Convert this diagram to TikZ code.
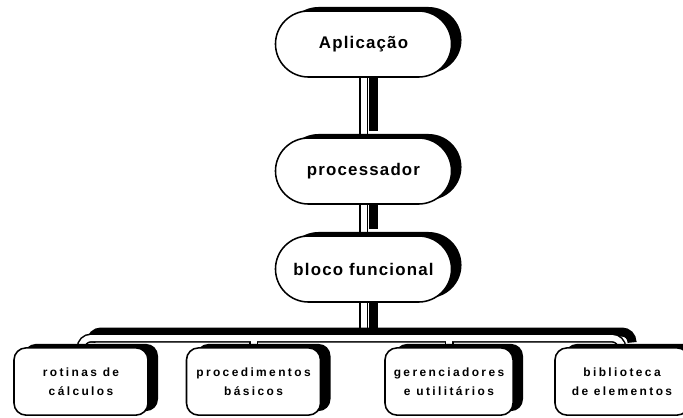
\documentclass[tikz,border=0pt]{standalone}
\usepackage{fontspec}
\setmainfont{Liberation Sans}
\newfontfamily\pillfont{Liberation Sans}[LetterSpace=7]
\newfontfamily\leaffont{Liberation Sans}[LetterSpace=20]
\usetikzlibrary{shapes.misc,shadows,backgrounds}
\tikzset{
  blackshadow/.style={drop shadow={shadow xshift=0.25cm, shadow yshift=0.1cm, fill=black, opacity=1}},
  pill/.style={rounded rectangle, draw=black, line width=1.1pt, fill=white, blackshadow,
    minimum width=4.4cm, minimum height=1.65cm, inner sep=0pt,
    font=\pillfont\bfseries\fontsize{12}{14}\selectfont},
  leaf/.style={rectangle, rounded corners=0.3cm, draw=black, line width=1.1pt, fill=white, blackshadow,
    minimum width=3.35cm, minimum height=1.68cm, align=center, inner sep=0pt,
    font=\leaffont\bfseries\fontsize{8.5}{13.5}\selectfont},
  pipeshift/.style={transform canvas={xshift=0.25cm, yshift=0.15cm}},
  pipeedge/.style={line width=0.225cm, draw=black, rounded corners=0.25cm},
  pipecore/.style={line width=0.15cm, draw=white, rounded corners=0.25cm}
}
\begin{document}
\begin{tikzpicture}[x=0.025cm, y=-0.025cm]
  \clip (0,0) rectangle (683,417);

  % main column
  \node[pill] (app) at (363.5,44) {Aplicação};
  \node[pill] (proc) at (363.5,171) {processador};
  \node[pill] (bloco) at (363.5,269) {bloco funcional};

  % bottom row
  \node[leaf] (rot) at (81,381.5) {rotinas de\\cálculos};
  \node[leaf] (proced) at (253.5,381.5) {procedimentos\\básicos};
  \node[leaf, minimum width=3.2cm] (geren) at (449,381.5) {gerenciadores\\e utilitários};
  \node[leaf] (biblio) at (622,381.5) {biblioteca\\de elementos};

  \coordinate (bus) at (363.5,338);

  \begin{pgfonlayer}{background}
    \fill[white] (0,0) rectangle (683,417);
    % column pipes
    \begin{scope}[pipeshift]
      \draw[pipeedge] (app.south) -- (proc.north);
      \draw[pipeedge] (proc.south) -- (bloco.north);
      \draw[pipeedge] (bloco.south) -- (bus);
    \end{scope}
    \foreach \st in {pipeedge, pipecore} {
      \draw[\st] (app.south) -- (proc.north);
      \draw[\st] (proc.south) -- (bloco.north);
      \draw[\st] (bloco.south) -- (bus);
    }
    % bus and branches
    \begin{scope}[pipeshift]
      \draw[pipeedge] (proced.north) -- (proced.north |- bus);
      \draw[pipeedge] (geren.north) -- (geren.north |- bus);
      \draw[pipeedge] (rot.north) |- (bus) -| (biblio.north);
    \end{scope}
    \foreach \st in {pipeedge, pipecore} {
      \draw[\st] (proced.north) -- (proced.north |- bus);
      \draw[\st] (geren.north) -- (geren.north |- bus);
      \draw[\st] (rot.north) |- (bus) -| (biblio.north);
    }
  \end{pgfonlayer}
\end{tikzpicture}
\end{document}
